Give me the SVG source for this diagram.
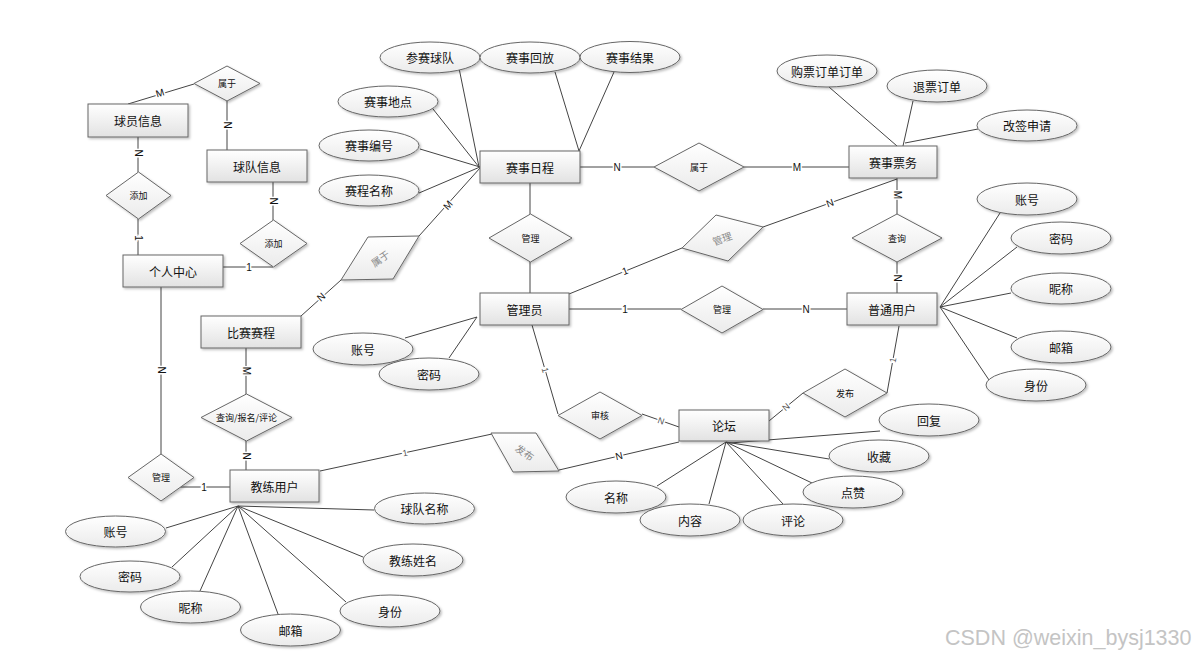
<svg xmlns="http://www.w3.org/2000/svg" width="1198" height="658" viewBox="0 0 1198 658">
<defs>
<linearGradient id="g" x1="0" y1="0" x2="0" y2="1"><stop offset="0" stop-color="#ffffff"/><stop offset="1" stop-color="#e2e2e2"/></linearGradient>
<linearGradient id="gd" x1="0" y1="0" x2="0" y2="1"><stop offset="0" stop-color="#ffffff"/><stop offset="1" stop-color="#ebebeb"/></linearGradient>
<filter id="sh" x="-10%" y="-10%" width="130%" height="140%"><feDropShadow dx="1.5" dy="1.5" stdDeviation="0.8" flood-color="#000" flood-opacity="0.25"/></filter>
</defs>
<style>
.e{fill:url(#g);stroke:#666;stroke-width:1;filter:url(#sh)}
.a{fill:url(#gd);stroke:#666;stroke-width:1;filter:url(#sh)}
.d{fill:url(#gd);stroke:#666;stroke-width:1;filter:url(#sh)}
.t{font-family:"Noto Sans CJK SC","Liberation Sans",sans-serif;font-size:12px;fill:#111;text-anchor:middle;dominant-baseline:central}
.ts{font-family:"Noto Sans CJK SC","Liberation Sans",sans-serif;font-size:9px;fill:#111;text-anchor:middle;dominant-baseline:central}
.tg{font-family:"Noto Sans CJK SC","Liberation Sans",sans-serif;font-size:10px;fill:#888;text-anchor:middle;dominant-baseline:central}
.l{stroke:#444;stroke-width:1;fill:none}
.c{font-family:"Liberation Sans",Arial,sans-serif;font-size:10px;fill:#111;text-anchor:middle;dominant-baseline:central;paint-order:stroke;stroke:#fff;stroke-width:3px}
.cs{font-family:"Liberation Sans",Arial,sans-serif;font-size:9px;fill:#555;text-anchor:middle;dominant-baseline:central;paint-order:stroke;stroke:#fff;stroke-width:3px}
.wm{font-family:"Liberation Sans",Arial,sans-serif;font-size:21.5px;fill:#c4c4c4}
</style>
<rect width="1198" height="658" fill="#fff"/>
<g id="connectors">
<line class="l" x1="128" y1="104" x2="194" y2="84"/>
<line class="l" x1="227" y1="101" x2="227" y2="150"/>
<line class="l" x1="138" y1="137" x2="138" y2="172"/>
<line class="l" x1="138" y1="219" x2="138" y2="255"/>
<line class="l" x1="273" y1="182" x2="273" y2="220"/>
<line class="l" x1="223" y1="267" x2="273" y2="267"/>
<line class="l" x1="161" y1="287" x2="161" y2="454"/>
<line class="l" x1="180" y1="487" x2="230" y2="487"/>
<line class="l" x1="246" y1="348" x2="246" y2="394"/>
<line class="l" x1="246" y1="441" x2="246" y2="470"/>
<line class="l" x1="301" y1="316" x2="341" y2="280"/>
<line class="l" x1="419" y1="236" x2="480" y2="168"/>
<line class="l" x1="459" y1="68" x2="479" y2="167"/>
<line class="l" x1="433" y1="109" x2="479" y2="167"/>
<line class="l" x1="420" y1="149" x2="480" y2="167"/>
<line class="l" x1="419" y1="193" x2="480" y2="167"/>
<line class="l" x1="555" y1="72" x2="579" y2="151"/>
<line class="l" x1="614" y1="72" x2="579" y2="151"/>
<line class="l" x1="580" y1="167" x2="654" y2="167"/>
<line class="l" x1="744" y1="167" x2="849" y2="167"/>
<line class="l" x1="530" y1="182" x2="530" y2="214"/>
<line class="l" x1="530" y1="262" x2="530" y2="293"/>
<line class="l" x1="569" y1="294" x2="682" y2="248"/>
<line class="l" x1="763" y1="227" x2="897" y2="179"/>
<line class="l" x1="897" y1="178" x2="897" y2="214"/>
<line class="l" x1="897" y1="262" x2="897" y2="293"/>
<line class="l" x1="569" y1="309" x2="681" y2="309"/>
<line class="l" x1="763" y1="309" x2="847" y2="309"/>
<line class="l" x1="829" y1="87" x2="897" y2="146"/>
<line class="l" x1="913" y1="101" x2="903" y2="146"/>
<line class="l" x1="978" y1="129" x2="905" y2="143"/>
<line class="l" x1="1000" y1="213" x2="940" y2="307"/>
<line class="l" x1="1017" y1="247" x2="940" y2="307"/>
<line class="l" x1="1011" y1="293" x2="940" y2="307"/>
<line class="l" x1="1017" y1="338" x2="940" y2="307"/>
<line class="l" x1="989" y1="380" x2="940" y2="307"/>
<line class="l" x1="899" y1="326" x2="887" y2="393"/>
<line class="l" x1="803" y1="393" x2="769" y2="421"/>
<line class="l" x1="532" y1="325" x2="558" y2="414"/>
<line class="l" x1="642" y1="414" x2="679" y2="427"/>
<line class="l" x1="320" y1="471" x2="492" y2="434"/>
<line class="l" x1="559" y1="470" x2="679" y2="442"/>
<line class="l" x1="880" y1="431" x2="730" y2="443"/>
<line class="l" x1="829" y1="459" x2="726" y2="442"/>
<line class="l" x1="812" y1="483" x2="726" y2="442"/>
<line class="l" x1="783" y1="504" x2="726" y2="442"/>
<line class="l" x1="709" y1="504" x2="726" y2="442"/>
<line class="l" x1="657" y1="486" x2="726" y2="442"/>
<line class="l" x1="374" y1="510" x2="238" y2="506"/>
<line class="l" x1="166" y1="528" x2="238" y2="506"/>
<line class="l" x1="172" y1="567" x2="238" y2="506"/>
<line class="l" x1="200" y1="591" x2="238" y2="506"/>
<line class="l" x1="278" y1="614" x2="238" y2="506"/>
<line class="l" x1="346" y1="602" x2="238" y2="506"/>
<line class="l" x1="363" y1="557" x2="238" y2="506"/>
<line class="l" x1="405" y1="338" x2="477" y2="317"/>
<line class="l" x1="449" y1="358" x2="477" y2="317"/>
<text class="c" transform="translate(160,93) rotate(-17)">M</text>
<text class="c" transform="translate(227,125) rotate(90)">N</text>
<text class="c" transform="translate(138,153) rotate(90)">N</text>
<text class="c" transform="translate(138,238) rotate(90)">1</text>
<text class="c" transform="translate(273,201) rotate(90)">N</text>
<text class="c" x="249" y="267">1</text>
<text class="c" transform="translate(161,370) rotate(90)">N</text>
<text class="c" x="204" y="487">1</text>
<text class="c" transform="translate(246,371) rotate(90)">M</text>
<text class="c" transform="translate(246,456) rotate(90)">N</text>
<text class="c" transform="translate(321,297) rotate(-42)">N</text>
<text class="c" transform="translate(448,205) rotate(-48)">M</text>
<text class="c" x="617" y="167">N</text>
<text class="c" x="797" y="167">M</text>
<text class="c" transform="translate(625,271) rotate(-22)">1</text>
<text class="c" transform="translate(830,203) rotate(-20)">N</text>
<text class="c" transform="translate(897,195) rotate(90)">M</text>
<text class="c" transform="translate(897,278) rotate(90)">N</text>
<text class="c" x="625" y="309">1</text>
<text class="c" x="806" y="309">N</text>
<text class="cs" transform="translate(893,360) rotate(-80)">1</text>
<text class="cs" transform="translate(786,407) rotate(-40)">N</text>
<text class="cs" transform="translate(545,370) rotate(74)">1</text>
<text class="cs" transform="translate(661,421) rotate(19)">N</text>
<text class="cs" transform="translate(405,453) rotate(-12)">1</text>
<text class="c" transform="translate(619,456) rotate(-13)">N</text>
</g>
<g id="r-shuyu1"><polygon class="d" points="227,66 260,83.5 227,101 194,83.5"/><text class="ts" x="227" y="83.5">属于</text></g>
<g id="r-tianjia1"><polygon class="d" points="138.5,172 171,195.5 138.5,219 106,195.5"/><text class="ts" x="138.5" y="195.5">添加</text></g>
<g id="r-tianjia2"><polygon class="d" points="273.5,220 307,243.5 273.5,267 240,243.5"/><text class="ts" x="273.5" y="243.5">添加</text></g>
<g id="r-shuyu2"><polygon class="d" points="699,143 744,167 699,191 654,167"/><text class="ts" x="699" y="167">属于</text></g>
<g id="r-guanli1"><polygon class="d" points="530.5,214 572,238 530.5,262 489,238"/><text class="ts" x="530.5" y="238">管理</text></g>
<g id="r-guanli2"><polygon class="d" points="716,215 763,227 728,261 682,248"/><text class="tg" transform="translate(722,238) rotate(-20)">管理</text></g>
<g id="r-shuyu3"><polygon class="d" points="368,237 419,236 393,279 341,280"/><text class="tg" transform="translate(380,258) rotate(-35)">属于</text></g>
<g id="r-guanli3"><polygon class="d" points="722,286 763,309.5 722,333 681,309.5"/><text class="ts" x="722" y="309.5">管理</text></g>
<g id="r-chaxun"><polygon class="d" points="897,214 942,238 897,262 852,238"/><text class="ts" x="897" y="238">查询</text></g>
<g id="r-fabu1"><polygon class="d" points="845,369 887,393 845,417 803,393"/><text class="ts" x="845" y="393">发布</text></g>
<g id="r-shenhe"><polygon class="d" points="600,392 642,415.5 600,439 558,415.5"/><text class="ts" x="600" y="415.5">审核</text></g>
<g id="r-fabu2"><polygon class="d" points="491,433 536,433 559,471 513,472"/><text class="tg" transform="translate(525,452) rotate(35)">发布</text></g>
<g id="r-cbp"><polygon class="d" points="246.5,394 292,417.5 246.5,441 201,417.5"/><text class="ts" x="246.5" y="417.5">查询/报名/评论</text></g>
<g id="r-guanli4"><polygon class="d" points="161,454 194,477.5 161,501 128,477.5"/><text class="ts" x="161" y="477.5">管理</text></g>
<g id="e-qiuyuan"><rect class="e" x="88" y="104" width="100" height="33"/><text class="t" x="138" y="120.5">球员信息</text></g>
<g id="e-qiudui"><rect class="e" x="207" y="150" width="100" height="32"/><text class="t" x="257" y="166">球队信息</text></g>
<g id="e-geren"><rect class="e" x="123" y="255" width="100" height="32"/><text class="t" x="173" y="271">个人中心</text></g>
<g id="e-richeng"><rect class="e" x="480" y="151" width="100" height="32"/><text class="t" x="530" y="167">赛事日程</text></g>
<g id="e-piaowu"><rect class="e" x="849" y="146" width="88" height="32"/><text class="t" x="893" y="162">赛事票务</text></g>
<g id="e-putong"><rect class="e" x="847" y="293" width="90" height="32"/><text class="t" x="892" y="309">普通用户</text></g>
<g id="e-guanliyuan"><rect class="e" x="480" y="293" width="89" height="32"/><text class="t" x="524.5" y="309">管理员</text></g>
<g id="e-saicheng"><rect class="e" x="201" y="316" width="100" height="32"/><text class="t" x="251" y="332">比赛赛程</text></g>
<g id="e-jiaolian"><rect class="e" x="230" y="470" width="89" height="32"/><text class="t" x="274.5" y="486">教练用户</text></g>
<g id="e-luntan"><rect class="e" x="679" y="410" width="90" height="31"/><text class="t" x="724" y="425.5">论坛</text></g>
<g id="a-cansai"><ellipse class="a" cx="430" cy="57.5" rx="50" ry="15.5"/><text class="t" x="430" y="57.5">参赛球队</text></g>
<g id="a-huifang"><ellipse class="a" cx="530" cy="57.5" rx="50" ry="15.5"/><text class="t" x="530" y="57.5">赛事回放</text></g>
<g id="a-jieguo"><ellipse class="a" cx="630" cy="57" rx="50" ry="15.5"/><text class="t" x="630" y="57">赛事结果</text></g>
<g id="a-didian"><ellipse class="a" cx="388" cy="101.5" rx="50" ry="15.5"/><text class="t" x="388" y="101.5">赛事地点</text></g>
<g id="a-bianhao"><ellipse class="a" cx="369" cy="145.5" rx="50" ry="15.5"/><text class="t" x="369" y="145.5">赛事编号</text></g>
<g id="a-mingcheng"><ellipse class="a" cx="369" cy="190.5" rx="50" ry="15.5"/><text class="t" x="369" y="190.5">赛程名称</text></g>
<g id="a-goupiao"><ellipse class="a" cx="827" cy="71" rx="50" ry="16"/><text class="t" x="827" y="71">购票订单订单</text></g>
<g id="a-tuipiao"><ellipse class="a" cx="937" cy="86" rx="50" ry="16"/><text class="t" x="937" y="86">退票订单</text></g>
<g id="a-gaiqian"><ellipse class="a" cx="1027" cy="125.5" rx="50" ry="15.5"/><text class="t" x="1027" y="125.5">改签申请</text></g>
<g id="a-pt-zh"><ellipse class="a" cx="1027" cy="199" rx="50" ry="16"/><text class="t" x="1027" y="199">账号</text></g>
<g id="a-pt-mm"><ellipse class="a" cx="1061" cy="238" rx="50" ry="16"/><text class="t" x="1061" y="238">密码</text></g>
<g id="a-pt-nc"><ellipse class="a" cx="1061" cy="288.5" rx="50" ry="15.5"/><text class="t" x="1061" y="288.5">昵称</text></g>
<g id="a-pt-yx"><ellipse class="a" cx="1061" cy="347" rx="50" ry="16"/><text class="t" x="1061" y="347">邮箱</text></g>
<g id="a-pt-sf"><ellipse class="a" cx="1036" cy="385" rx="50" ry="16"/><text class="t" x="1036" y="385">身份</text></g>
<g id="a-gl-zh"><ellipse class="a" cx="363" cy="349" rx="50" ry="16"/><text class="t" x="363" y="349">账号</text></g>
<g id="a-gl-mm"><ellipse class="a" cx="429" cy="374" rx="50" ry="16"/><text class="t" x="429" y="374">密码</text></g>
<g id="a-huifu"><ellipse class="a" cx="929" cy="420" rx="50" ry="16"/><text class="t" x="929" y="420">回复</text></g>
<g id="a-shoucang"><ellipse class="a" cx="879" cy="456" rx="50" ry="16"/><text class="t" x="879" y="456">收藏</text></g>
<g id="a-dianzan"><ellipse class="a" cx="853" cy="492" rx="50" ry="16"/><text class="t" x="853" y="492">点赞</text></g>
<g id="a-lt-mc"><ellipse class="a" cx="616" cy="497" rx="50" ry="16"/><text class="t" x="616" y="497">名称</text></g>
<g id="a-neirong"><ellipse class="a" cx="690" cy="520" rx="50" ry="16"/><text class="t" x="690" y="520">内容</text></g>
<g id="a-pinglun"><ellipse class="a" cx="793" cy="520" rx="50" ry="16"/><text class="t" x="793" y="520">评论</text></g>
<g id="a-qdmc"><ellipse class="a" cx="424.5" cy="508.5" rx="50" ry="15.5"/><text class="t" x="424.5" y="508.5">球队名称</text></g>
<g id="a-jl-zh"><ellipse class="a" cx="115.5" cy="531.5" rx="50" ry="15.5"/><text class="t" x="115.5" y="531.5">账号</text></g>
<g id="a-jlxm"><ellipse class="a" cx="413" cy="560" rx="50" ry="16"/><text class="t" x="413" y="560">教练姓名</text></g>
<g id="a-jl-mm"><ellipse class="a" cx="130" cy="576.5" rx="50" ry="15.5"/><text class="t" x="130" y="576.5">密码</text></g>
<g id="a-jl-nc"><ellipse class="a" cx="190.5" cy="607" rx="50" ry="16"/><text class="t" x="190.5" y="607">昵称</text></g>
<g id="a-jl-sf"><ellipse class="a" cx="390" cy="611" rx="50" ry="16"/><text class="t" x="390" y="611">身份</text></g>
<g id="a-jl-yx"><ellipse class="a" cx="290.5" cy="630" rx="50" ry="16"/><text class="t" x="290.5" y="630">邮箱</text></g>
<text class="wm" x="945" y="645">CSDN @weixin_bysj1330</text>
</svg>
